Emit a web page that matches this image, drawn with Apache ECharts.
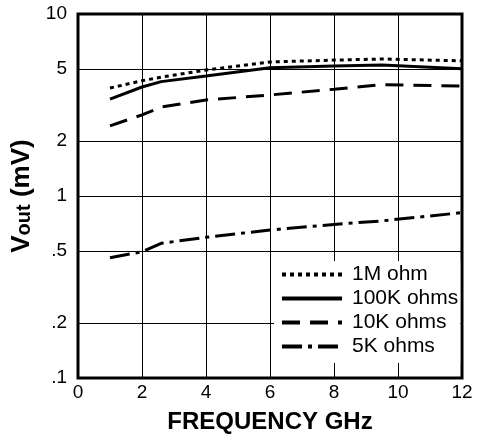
<!DOCTYPE html>
<html>
<head>
<meta charset="utf-8">
<script src="https://cdn.jsdelivr.net/npm/echarts@6/dist/echarts.min.js"></script>
<style>
  html, body { margin: 0; padding: 0; background: #fff; }
  #chart { width: 478px; height: 440px; }
</style>
</head>
<body>
<div id="chart"></div>
<script>
// frequency (GHz) sample points
const freq = [1, 2, 2.6, 4, 6, 8, 9.5, 12];

// Vout (mV) per load
const v1M = [3.92, 4.3, 4.5, 4.92, 5.45, 5.58, 5.66, 5.53];
const v100K = [3.41, 3.97, 4.25, 4.56, 5.07, 5.18, 5.25, 5.0];
const v10K = [2.43, 2.79, 3.08, 3.37, 3.59, 3.86, 4.09, 4.02];
const v5K = [0.458, 0.494, 0.55, 0.593, 0.65, 0.698, 0.73, 0.81];

const seriesNames = ['1M ohm', '100K ohms', '10K ohms', '5K ohms'];
const yTicks = [0.1, 0.2, 0.5, 1, 2, 5, 10];

const font = 'Liberation Sans, Arial, sans-serif';

function pairs(ys) {
  return freq.map(function (x, i) { return [x, ys[i]]; });
}

const chart = echarts.init(document.getElementById('chart'));

function makeSeries(name, ys, dash) {
  return {
    name: name,
    type: 'line',
    data: pairs(ys),
    symbol: 'none',
    color: '#000',
    z: 3,
    lineStyle: { color: '#000', width: 3, type: dash }
  };
}

chart.setOption({
  animation: false,
  backgroundColor: '#fff',
  grid: {
    left: 78,
    right: 16,
    top: 14,
    bottom: 62,
    show: true,
    borderColor: '#000',
    borderWidth: 3,
    z: 4
  },
  legend: {
    orient: 'vertical',
    left: 274,
    top: 261,
    padding: [3, 2, 6, 6],
    backgroundColor: '#fff',
    itemWidth: 60,
    itemHeight: 14,
    itemGap: 3,
    z: 5,
    data: seriesNames,
    itemStyle: { opacity: 0 },
    lineStyle: { width: 4 },
    textStyle: { fontFamily: font, fontSize: 21, color: '#000', padding: [0, 0, 0, 5] }
  },
  xAxis: {
    type: 'value',
    min: 0,
    max: 12,
    interval: 2,
    name: 'FREQUENCY GHz',
    nameLocation: 'middle',
    nameGap: 32,
    nameTextStyle: { fontFamily: font, fontSize: 24, fontWeight: 'bold', color: '#000' },
    axisLine: { show: false },
    axisTick: { show: false },
    axisLabel: { fontFamily: font, fontSize: 19, color: '#000', margin: 5 },
    splitLine: { show: true, lineStyle: { color: '#000', width: 1 } }
  },
  yAxis: {
    type: 'log',
    logBase: 10,
    min: 0.1,
    max: 10,
    name: '{v|V}{s|out}{v| (mV)}',
    nameLocation: 'middle',
    nameGap: 42,
    nameTextStyle: {
      fontFamily: font,
      color: '#000',
      rich: {
        v: { fontFamily: font, fontSize: 26, fontWeight: 'bold', lineHeight: 26, verticalAlign: 'top', color: '#000' },
        s: { fontFamily: font, fontSize: 20, fontWeight: 'bold', lineHeight: 20, padding: [4, 0, 0, 0], verticalAlign: 'bottom', color: '#000' }
      }
    },
    axisLine: { show: false },
    axisTick: { show: false, customValues: yTicks },
    axisLabel: {
      fontFamily: font,
      fontSize: 19,
      color: '#000',
      margin: 11,
      customValues: yTicks,
      formatter: function (v) {
        return v < 1 ? String(v).replace('0.', '.') : String(v);
      }
    },
    splitLine: { show: true, lineStyle: { color: '#000', width: 1 } },
    minorSplitLine: { show: false }
  },
  series: [
    makeSeries(seriesNames[0], v1M, [4, 4]),
    makeSeries(seriesNames[1], v100K, 'solid'),
    makeSeries(seriesNames[2], v10K, [18, 10]),
    makeSeries(seriesNames[3], v5K, [20, 6, 4, 6])
  ]
});
</script>
</body>
</html>
